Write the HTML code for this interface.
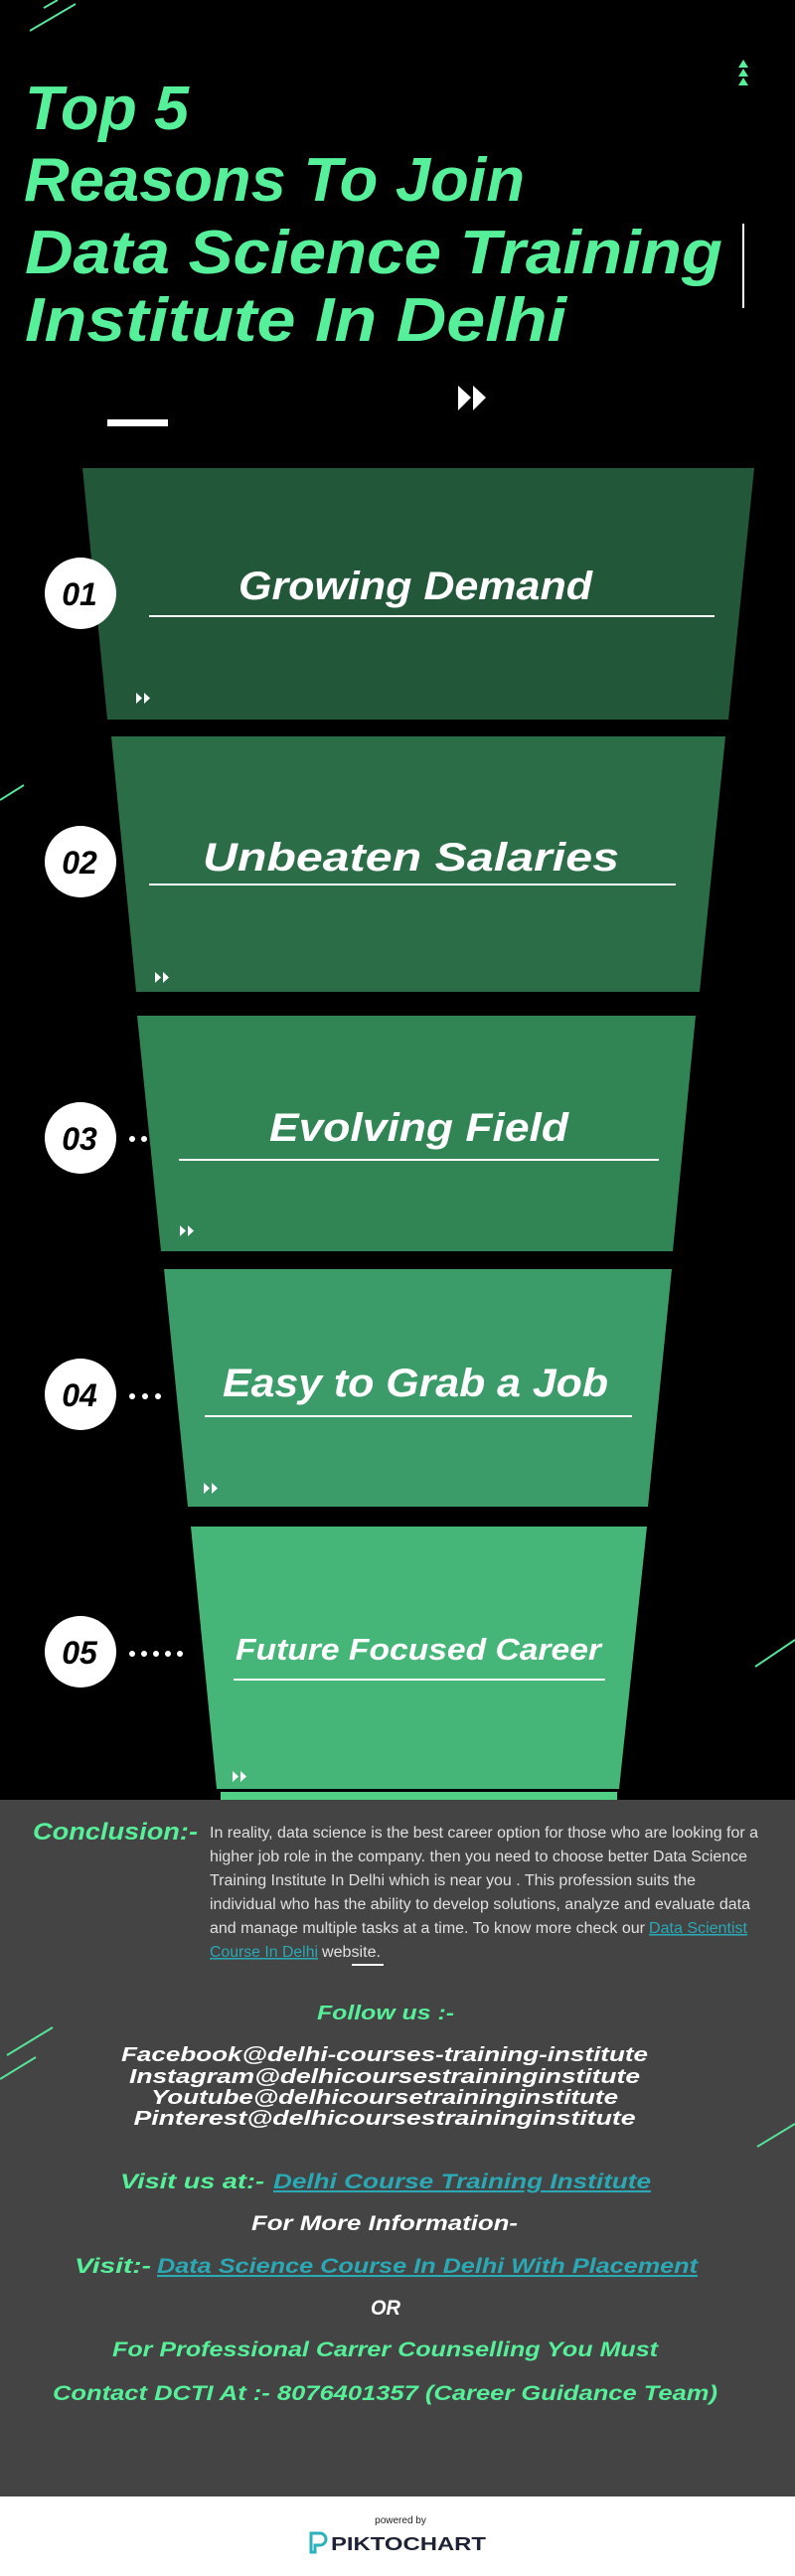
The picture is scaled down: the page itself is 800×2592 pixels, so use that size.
<!DOCTYPE html>
<html><head><meta charset="utf-8"><style>
html,body{margin:0;padding:0;background:#000;}
svg{display:block;}
.d{font-family:"Liberation Sans",sans-serif;font-weight:bold;font-style:italic;}
.p{font-family:"Liberation Sans",sans-serif;}
</style></head><body>
<svg width="800" height="2592" viewBox="0 0 800 2592" xmlns="http://www.w3.org/2000/svg">
<rect x="0" y="0" width="800" height="1811" fill="#000"/>
<!-- top decorations -->
<line x1="30" y1="31" x2="76" y2="4" stroke="#57e39a" stroke-width="2"/>
<line x1="44" y1="8" x2="58" y2="0" stroke="#57e39a" stroke-width="2"/>
<g fill="#57f09a">
<polygon points="748,60 743,68 753,68"/><polygon points="748,69 743,77 753,77"/><polygon points="748,78 743,86 753,86"/>
</g>
<line x1="748" y1="225" x2="748" y2="310" stroke="#fff" stroke-width="2"/>
<rect x="108" y="422" width="61" height="7" fill="#fff"/>
<polygon points="461,388 461,413 474,400" fill="#fff"/><polygon points="476,388 476,413 489,400" fill="#fff"/>
<!-- title -->
<g class="d" fill="#57f09a" font-size="62">
<text x="25" y="130" textLength="165" lengthAdjust="spacingAndGlyphs">Top 5</text>
<text x="24" y="202" textLength="504" lengthAdjust="spacingAndGlyphs">Reasons To Join</text>
<text x="25" y="275" textLength="702" lengthAdjust="spacingAndGlyphs">Data Science Training</text>
<text x="25" y="343" textLength="545" lengthAdjust="spacingAndGlyphs">Institute In Delhi</text>
</g>
<!-- traps -->
<polygon points="83,471 759,471 733,724 108,724" fill="#22573a"/>
<polygon points="112,741 730,741 704,998 137,998" fill="#2a6d47"/>
<polygon points="138,1022 700,1022 677,1259 162,1259" fill="#318555"/>
<polygon points="165,1277 676,1277 652,1516 189,1516" fill="#3b9b69"/>
<polygon points="192,1536 651,1536 623,1800 218,1800" fill="#45b677"/>
<rect x="222" y="1803" width="399" height="9" fill="#50cf85"/>
<line x1="0" y1="805" x2="24" y2="790" stroke="#57e39a" stroke-width="2"/>
<line x1="760" y1="1677" x2="800" y2="1650" stroke="#57e39a" stroke-width="2"/>
<!-- titles -->
<g class="d" fill="#fff">
<text x="240" y="603" font-size="40" textLength="356" lengthAdjust="spacingAndGlyphs">Growing Demand</text>
<text x="204" y="876" font-size="40" textLength="419" lengthAdjust="spacingAndGlyphs">Unbeaten Salaries</text>
<text x="271" y="1148" font-size="40" textLength="301" lengthAdjust="spacingAndGlyphs">Evolving Field</text>
<text x="224" y="1405" font-size="40" textLength="388" lengthAdjust="spacingAndGlyphs">Easy to Grab a Job</text>
<text x="237" y="1670" font-size="31" textLength="368" lengthAdjust="spacingAndGlyphs">Future Focused Career</text>
</g>
<g fill="#fff">
<rect x="150" y="619" width="569" height="2"/>
<rect x="150" y="889" width="530" height="2"/>
<rect x="180" y="1166" width="483" height="2"/>
<rect x="206" y="1424" width="430" height="2"/>
<rect x="235" y="1689" width="374" height="2"/>
</g>
<!-- small arrows -->
<g fill="#fff">
<polygon points="137,697 137,708 143,702.5"/><polygon points="145,697 145,708 151,702.5"/>
<polygon points="156,978 156,989 162,983.5"/><polygon points="164,978 164,989 170,983.5"/>
<polygon points="181,1233 181,1244 187,1238.5"/><polygon points="189,1233 189,1244 195,1238.5"/>
<polygon points="205,1492 205,1503 211,1497.5"/><polygon points="213,1492 213,1503 219,1497.5"/>
<polygon points="234,1782 234,1793 240,1787.5"/><polygon points="242,1782 242,1793 248,1787.5"/>
</g>
<!-- circles -->
<g fill="#fff">
<ellipse cx="81" cy="597" rx="36" ry="36"/>
<ellipse cx="81" cy="867" rx="36" ry="36"/>
<ellipse cx="81" cy="1145" rx="36" ry="36"/>
<ellipse cx="81" cy="1403" rx="36" ry="36"/>
<ellipse cx="81" cy="1662" rx="36" ry="36"/>
<circle cx="133" cy="1146" r="3"/><circle cx="145" cy="1146" r="3"/>
<circle cx="133" cy="1405" r="3"/><circle cx="146" cy="1405" r="3"/><circle cx="159" cy="1405" r="3"/>
<circle cx="133" cy="1664" r="3"/><circle cx="145" cy="1664" r="3"/><circle cx="157" cy="1664" r="3"/><circle cx="169" cy="1664" r="3"/><circle cx="181" cy="1664" r="3"/>
</g>
<g class="d" fill="#000" font-size="32" text-anchor="middle">
<text x="80" y="609">01</text><text x="80" y="879">02</text><text x="80" y="1157">03</text><text x="80" y="1415">04</text><text x="80" y="1674">05</text>
</g>
<!-- gray section -->
<rect x="0" y="1811" width="800" height="701" fill="#444"/>
<line x1="7" y1="2068" x2="53" y2="2040" stroke="#57e39a" stroke-width="2"/>
<line x1="0" y1="2092" x2="36" y2="2070" stroke="#57e39a" stroke-width="2"/>
<line x1="762" y1="2160" x2="800" y2="2137" stroke="#57e39a" stroke-width="2"/>
<text class="d" x="33" y="1851" font-size="24" fill="#57f09a" textLength="166" lengthAdjust="spacingAndGlyphs">Conclusion:-</text>
<g class="p" fill="#e0e0e0" font-size="15.5">
<text x="211" y="1849" textLength="552" lengthAdjust="spacingAndGlyphs">In reality, data science is the best career option for those who are looking for a</text>
<text x="211" y="1873" textLength="541" lengthAdjust="spacingAndGlyphs">higher job role in the company. then you need to choose better Data Science</text>
<text x="211" y="1897" textLength="489" lengthAdjust="spacingAndGlyphs">Training Institute In Delhi which is near you . This profession suits the</text>
<text x="211" y="1921" textLength="544" lengthAdjust="spacingAndGlyphs">individual who has the ability to develop solutions, analyze and evaluate data</text>
<text x="211" y="1945" textLength="438" lengthAdjust="spacingAndGlyphs">and manage multiple tasks at a time. To know more check our</text>
<text x="653" y="1945" fill="#2aa8b4" text-decoration="underline" textLength="99" lengthAdjust="spacingAndGlyphs">Data Scientist</text>
<text x="211" y="1969" fill="#2aa8b4" text-decoration="underline" textLength="109" lengthAdjust="spacingAndGlyphs">Course In Delhi</text>
<text x="324" y="1969" textLength="59" lengthAdjust="spacingAndGlyphs">website.</text>
</g>
<rect x="354" y="1976" width="32" height="2" fill="#fff"/>
<g class="d" font-size="20" text-anchor="middle">
<text x="388" y="2032" fill="#57f09a" textLength="138" lengthAdjust="spacingAndGlyphs">Follow us :-</text>
<text x="387" y="2074" fill="#fff" textLength="530" lengthAdjust="spacingAndGlyphs">Facebook@delhi-courses-training-institute</text>
<text x="387" y="2096" fill="#fff" textLength="514" lengthAdjust="spacingAndGlyphs">Instagram@delhicoursestraininginstitute</text>
<text x="387" y="2117" fill="#fff" textLength="470" lengthAdjust="spacingAndGlyphs">Youtube@delhicoursetraininginstitute</text>
<text x="387" y="2138" fill="#fff" textLength="505" lengthAdjust="spacingAndGlyphs">Pinterest@delhicoursestraininginstitute</text>
</g>
<g class="d" font-size="21">
<text x="121" y="2202" fill="#57f09a" textLength="145" lengthAdjust="spacingAndGlyphs">Visit us at:-</text>
<text x="275" y="2202" fill="#2aa8b4" text-decoration="underline" textLength="380" lengthAdjust="spacingAndGlyphs">Delhi Course Training Institute</text>
<text x="253" y="2244" fill="#fff" textLength="268" lengthAdjust="spacingAndGlyphs">For More Information-</text>
<text x="75" y="2287" fill="#57f09a" textLength="77" lengthAdjust="spacingAndGlyphs">Visit:-</text>
<text x="158" y="2287" fill="#2aa8b4" text-decoration="underline" textLength="544" lengthAdjust="spacingAndGlyphs">Data Science Course In Delhi With Placement</text>
<text x="373" y="2329" fill="#fff" textLength="30" lengthAdjust="spacingAndGlyphs">OR</text>
<text x="113" y="2371" fill="#57f09a" textLength="549" lengthAdjust="spacingAndGlyphs">For Professional Carrer Counselling You Must</text>
<text x="53" y="2415" fill="#57f09a" textLength="669" lengthAdjust="spacingAndGlyphs">Contact DCTI At :- 8076401357 (Career Guidance Team)</text>
</g>
<!-- footer -->
<rect x="0" y="2512" width="800" height="80" fill="#fff"/>
<text class="p" x="403" y="2539" font-size="10" fill="#222" text-anchor="middle">powered by</text>
<path d="M313 2549 h9 a6 6 0 0 1 0 12 h-5 v7 h-4 z" fill="none" stroke="#2bb3bd" stroke-width="3"/>
<text x="333" y="2566" font-family="Liberation Sans,sans-serif" font-weight="bold" font-size="18" fill="#1e2235" textLength="156" lengthAdjust="spacingAndGlyphs">PIKTOCHART</text>
</svg>
</body></html>
